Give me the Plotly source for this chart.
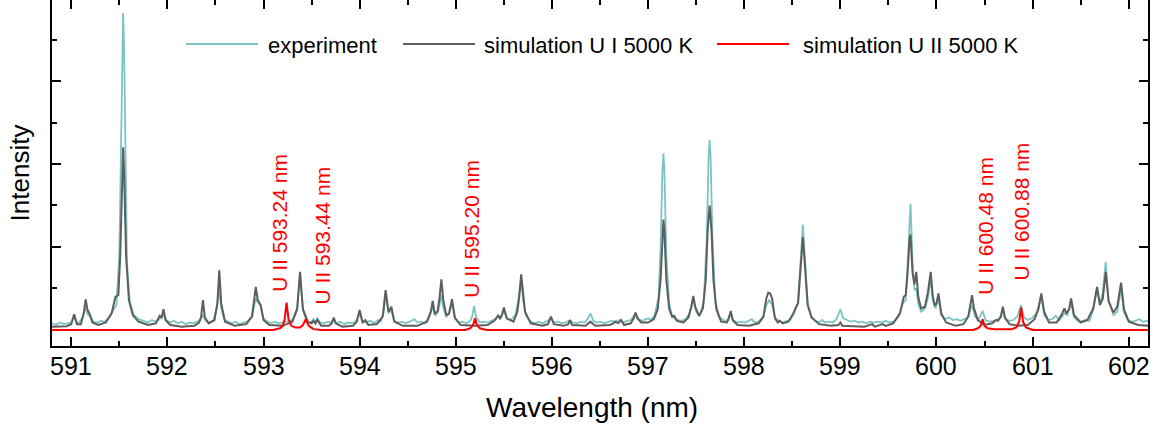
import plotly.graph_objects as go

# ---------------- data ----------------
# Measured spectrum (wavelength in nm, intensity in arbitrary units)
exp_nm = [590.80, 590.84, 590.88, 590.92, 590.96, 591.00, 591.03, 591.06, 591.09, 591.12, 591.15, 591.17, 591.20, 591.23,
          591.27, 591.31, 591.35, 591.40, 591.44, 591.47, 591.50, 591.52, 591.53, 591.54, 591.55, 591.56, 591.58, 591.61,
          591.65, 591.70, 591.75, 591.80, 591.84, 591.88, 591.92, 591.96, 591.99, 592.03, 592.07, 592.11, 592.15, 592.19,
          592.23, 592.27, 592.31, 592.34, 592.37, 592.40, 592.44, 592.48, 592.51, 592.54, 592.56, 592.59, 592.63, 592.67,
          592.71, 592.75, 592.79, 592.83, 592.88, 592.92, 592.95, 592.97, 593.00, 593.04, 593.08, 593.12, 593.16, 593.20,
          593.25, 593.30, 593.35, 593.38, 593.41, 593.45, 593.49, 593.52, 593.54, 593.56, 593.59, 593.63, 593.67, 593.70,
          593.73, 593.76, 593.80, 593.84, 593.88, 593.92, 593.96, 594.00, 594.03, 594.07, 594.11, 594.15, 594.19, 594.22,
          594.25, 594.27, 594.30, 594.33, 594.36, 594.40, 594.44, 594.48, 594.52, 594.57, 594.60, 594.64, 594.68, 594.72,
          594.76, 594.79, 594.82, 594.85, 594.87, 594.90, 594.93, 594.96, 594.99, 595.03, 595.07, 595.11, 595.15, 595.17,
          595.19, 595.21, 595.25, 595.29, 595.33, 595.37, 595.41, 595.44, 595.47, 595.50, 595.53, 595.57, 595.62, 595.65,
          595.68, 595.70, 595.73, 595.78, 595.82, 595.86, 595.90, 595.94, 595.99, 596.02, 596.06, 596.10, 596.14, 596.18,
          596.22, 596.26, 596.30, 596.34, 596.37, 596.40, 596.43, 596.47, 596.51, 596.55, 596.59, 596.63, 596.66, 596.70,
          596.74, 596.78, 596.82, 596.87, 596.90, 596.94, 596.97, 597.00, 597.03, 597.07, 597.11, 597.13, 597.15, 597.16,
          597.17, 597.19, 597.22, 597.25, 597.27, 597.31, 597.35, 597.39, 597.43, 597.47, 597.50, 597.54, 597.58, 597.61,
          597.63, 597.64, 597.65, 597.67, 597.70, 597.74, 597.78, 597.82, 597.86, 597.89, 597.93, 597.97, 598.01, 598.05,
          598.08, 598.11, 598.15, 598.20, 598.23, 598.26, 598.29, 598.32, 598.36, 598.40, 598.44, 598.48, 598.52, 598.56,
          598.59, 598.61, 598.63, 598.66, 598.70, 598.74, 598.78, 598.81, 598.84, 598.88, 598.92, 598.96, 599.00, 599.03,
          599.07, 599.11, 599.15, 599.19, 599.23, 599.27, 599.31, 599.35, 599.39, 599.43, 599.47, 599.51, 599.56, 599.61,
          599.65, 599.68, 599.70, 599.72, 599.73, 599.75, 599.77, 599.79, 599.81, 599.84, 599.88, 599.91, 599.94, 599.96,
          599.99, 600.02, 600.05, 600.09, 600.13, 600.17, 600.21, 600.25, 600.29, 600.33, 600.37, 600.40, 600.44, 600.48,
          600.51, 600.55, 600.59, 600.63, 600.66, 600.69, 600.72, 600.76, 600.80, 600.84, 600.88, 600.91, 600.95, 600.99,
          601.04, 601.09, 601.12, 601.16, 601.20, 601.24, 601.28, 601.33, 601.36, 601.40, 601.43, 601.47, 601.51, 601.55,
          601.59, 601.63, 601.67, 601.70, 601.73, 601.76, 601.79, 601.84, 601.88, 601.92, 601.95, 601.99, 602.03, 602.07,
          602.11, 602.15, 602.20]
exp_int = [0.08, 0.06, 0.09, 0.07, 0.08, 0.09, 0.16, 0.08, 0.10, 0.16, 0.27, 0.19, 0.16, 0.10,
           0.09, 0.11, 0.10, 0.16, 0.25, 0.30, 0.90, 2.60, 3.50, 3.82, 3.40, 2.30, 0.80, 0.33,
           0.18, 0.13, 0.11, 0.09, 0.12, 0.10, 0.13, 0.20, 0.12, 0.09, 0.11, 0.08, 0.10, 0.07,
           0.09, 0.08, 0.10, 0.12, 0.18, 0.11, 0.09, 0.12, 0.25, 0.48, 0.26, 0.13, 0.10, 0.08,
           0.10, 0.07, 0.09, 0.10, 0.16, 0.38, 0.32, 0.30, 0.14, 0.10, 0.08, 0.10, 0.08, 0.09,
           0.10, 0.12, 0.26, 0.66, 0.24, 0.10, 0.09, 0.13, 0.10, 0.14, 0.09, 0.08, 0.10, 0.09,
           0.13, 0.08, 0.10, 0.07, 0.09, 0.08, 0.10, 0.20, 0.10, 0.09, 0.11, 0.08, 0.12, 0.10,
           0.22, 0.42, 0.20, 0.24, 0.11, 0.09, 0.10, 0.08, 0.10, 0.13, 0.09, 0.10, 0.08, 0.14,
           0.28, 0.17, 0.24, 0.42, 0.27, 0.16, 0.19, 0.33, 0.14, 0.09, 0.10, 0.08, 0.11, 0.16,
           0.29, 0.16, 0.09, 0.10, 0.09, 0.11, 0.13, 0.18, 0.15, 0.24, 0.14, 0.12, 0.18, 0.36,
           0.60, 0.36, 0.17, 0.10, 0.08, 0.10, 0.08, 0.10, 0.14, 0.09, 0.10, 0.08, 0.09, 0.11,
           0.09, 0.08, 0.10, 0.09, 0.13, 0.20, 0.11, 0.09, 0.10, 0.08, 0.10, 0.11, 0.10, 0.12,
           0.09, 0.11, 0.12, 0.20, 0.13, 0.11, 0.13, 0.14, 0.12, 0.18, 0.40, 1.00, 1.95, 2.13,
           1.90, 0.90, 0.32, 0.17, 0.14, 0.12, 0.11, 0.13, 0.20, 0.38, 0.22, 0.17, 0.35, 1.10,
           2.10, 2.29, 2.10, 1.10, 0.35, 0.16, 0.12, 0.11, 0.20, 0.11, 0.09, 0.10, 0.09, 0.11,
           0.13, 0.09, 0.10, 0.16, 0.30, 0.36, 0.30, 0.15, 0.11, 0.09, 0.11, 0.12, 0.20, 0.33,
           0.90, 1.27, 0.90, 0.32, 0.16, 0.11, 0.09, 0.12, 0.09, 0.10, 0.09, 0.13, 0.25, 0.14,
           0.12, 0.10, 0.11, 0.09, 0.10, 0.08, 0.10, 0.09, 0.10, 0.09, 0.11, 0.09, 0.10, 0.17,
           0.32, 0.36, 0.80, 1.40, 1.52, 0.85, 0.48, 0.50, 0.32, 0.22, 0.26, 0.38, 0.62, 0.36,
           0.26, 0.38, 0.18, 0.13, 0.15, 0.12, 0.13, 0.11, 0.13, 0.16, 0.30, 0.16, 0.13, 0.23,
           0.12, 0.10, 0.11, 0.12, 0.15, 0.25, 0.13, 0.11, 0.12, 0.16, 0.30, 0.15, 0.12, 0.14,
           0.20, 0.40, 0.18, 0.12, 0.13, 0.17, 0.12, 0.20, 0.18, 0.33, 0.15, 0.11, 0.10, 0.12,
           0.11, 0.24, 0.48, 0.32, 0.45, 0.82, 0.35, 0.18, 0.22, 0.50, 0.21, 0.12, 0.10, 0.11,
           0.13, 0.10, 0.11]

# Simulated U I spectrum at 5000 K
ui_nm = [590.80, 590.95, 591.00, 591.03, 591.06, 591.10, 591.13, 591.15, 591.17, 591.19, 591.22, 591.28, 591.36, 591.42,
         591.46, 591.49, 591.51, 591.53, 591.54, 591.55, 591.57, 591.60, 591.64, 591.70, 591.80, 591.88, 591.92, 591.94,
         591.96, 591.98, 592.03, 592.15, 592.28, 592.33, 592.35, 592.37, 592.39, 592.43, 592.49, 592.52, 592.54, 592.56,
         592.60, 592.70, 592.82, 592.88, 592.92, 592.94, 592.97, 593.00, 593.06, 593.20, 593.30, 593.35, 593.38, 593.41,
         593.46, 593.50, 593.52, 593.54, 593.56, 593.60, 593.68, 593.71, 593.73, 593.75, 593.82, 593.93, 593.97, 594.00,
         594.03, 594.06, 594.09, 594.18, 594.24, 594.27, 594.30, 594.33, 594.36, 594.45, 594.60, 594.70, 594.74, 594.76,
         594.78, 594.81, 594.83, 594.85, 594.87, 594.90, 594.93, 594.96, 594.99, 595.05, 595.20, 595.33, 595.40, 595.44,
         595.46, 595.48, 595.50, 595.53, 595.60, 595.64, 595.66, 595.68, 595.70, 595.72, 595.78, 595.90, 595.96, 595.99,
         596.02, 596.12, 596.17, 596.19, 596.21, 596.35, 596.40, 596.45, 596.60, 596.64, 596.66, 596.69, 596.72, 596.75,
         596.82, 596.85, 596.87, 596.89, 596.93, 597.00, 597.06, 597.10, 597.13, 597.15, 597.16, 597.17, 597.19, 597.22,
         597.25, 597.27, 597.30, 597.37, 597.42, 597.45, 597.47, 597.49, 597.53, 597.57, 597.60, 597.62, 597.64, 597.66,
         597.68, 597.71, 597.76, 597.82, 597.84, 597.86, 597.88, 597.93, 598.05, 598.15, 598.20, 598.23, 598.25, 598.27,
         598.29, 598.32, 598.35, 598.37, 598.40, 598.46, 598.51, 598.54, 598.56, 598.59, 598.61, 598.63, 598.66, 598.70,
         598.78, 598.90, 598.98, 599.00, 599.02, 599.25, 599.33, 599.36, 599.44, 599.47, 599.55, 599.62, 599.66, 599.68,
         599.70, 599.72, 599.73, 599.75, 599.77, 599.79, 599.81, 599.84, 599.88, 599.91, 599.94, 599.96, 599.98, 600.00,
         600.02, 600.05, 600.10, 600.20, 600.28, 600.33, 600.35, 600.37, 600.39, 600.43, 600.50, 600.58, 600.62, 600.64,
         600.67, 600.69, 600.71, 600.76, 600.85, 600.95, 601.02, 601.06, 601.09, 601.12, 601.17, 601.25, 601.30, 601.33,
         601.35, 601.38, 601.40, 601.43, 601.50, 601.57, 601.63, 601.67, 601.70, 601.73, 601.76, 601.79, 601.84, 601.88,
         601.92, 601.95, 602.00, 602.10, 602.20]
ui_int = [0.04, 0.045, 0.07, 0.19, 0.07, 0.07, 0.20, 0.37, 0.24, 0.20, 0.09, 0.06, 0.09, 0.20,
          0.40, 0.42, 0.90, 1.90, 2.20, 1.90, 0.90, 0.36, 0.18, 0.10, 0.06, 0.08, 0.17, 0.15,
          0.25, 0.12, 0.06, 0.04, 0.05, 0.09, 0.15, 0.36, 0.15, 0.08, 0.12, 0.32, 0.72, 0.32,
          0.10, 0.05, 0.07, 0.16, 0.52, 0.36, 0.30, 0.12, 0.06, 0.05, 0.10, 0.25, 0.70, 0.25,
          0.10, 0.08, 0.11, 0.08, 0.12, 0.05, 0.05, 0.08, 0.15, 0.08, 0.04, 0.05, 0.10, 0.24,
          0.09, 0.12, 0.06, 0.07, 0.16, 0.48, 0.22, 0.28, 0.10, 0.05, 0.05, 0.10, 0.22, 0.35,
          0.20, 0.22, 0.38, 0.61, 0.36, 0.18, 0.20, 0.37, 0.15, 0.06, 0.05, 0.06, 0.11, 0.17,
          0.14, 0.18, 0.27, 0.14, 0.10, 0.22, 0.40, 0.67, 0.40, 0.22, 0.08, 0.05, 0.07, 0.16,
          0.07, 0.05, 0.07, 0.12, 0.06, 0.05, 0.10, 0.05, 0.06, 0.08, 0.10, 0.08, 0.12, 0.06,
          0.08, 0.14, 0.21, 0.14, 0.09, 0.09, 0.13, 0.25, 0.60, 1.20, 1.33, 1.20, 0.60, 0.25,
          0.16, 0.17, 0.11, 0.09, 0.15, 0.28, 0.41, 0.28, 0.17, 0.26, 0.60, 1.20, 1.50, 1.20,
          0.60, 0.25, 0.10, 0.09, 0.14, 0.23, 0.12, 0.06, 0.05, 0.08, 0.16, 0.38, 0.45, 0.44,
          0.38, 0.14, 0.09, 0.11, 0.08, 0.10, 0.20, 0.28, 0.32, 0.80, 1.12, 0.80, 0.30, 0.15,
          0.07, 0.05, 0.06, 0.09, 0.05, 0.04, 0.07, 0.04, 0.07, 0.05, 0.08, 0.20, 0.40, 0.42,
          0.70, 1.10, 1.15, 0.70, 0.55, 0.70, 0.40, 0.26, 0.28, 0.45, 0.70, 0.42, 0.30, 0.32,
          0.44, 0.20, 0.09, 0.05, 0.07, 0.16, 0.28, 0.42, 0.26, 0.12, 0.06, 0.08, 0.12, 0.11,
          0.16, 0.28, 0.15, 0.07, 0.05, 0.06, 0.13, 0.25, 0.44, 0.22, 0.09, 0.09, 0.18, 0.26,
          0.20, 0.25, 0.38, 0.18, 0.09, 0.12, 0.26, 0.52, 0.30, 0.38, 0.70, 0.35, 0.21, 0.28,
          0.57, 0.25, 0.10, 0.06, 0.05]

# Simulated U II spectrum at 5000 K
uii_nm = [590.80, 593.10, 593.17, 593.20, 593.22, 593.24, 593.26, 593.29, 593.33, 593.38, 593.41, 593.44, 593.47,
          593.52, 593.60, 595.10, 595.15, 595.18, 595.20, 595.22, 595.25, 595.32, 600.38, 600.43, 600.46, 600.48,
          600.50, 600.53, 600.60, 600.78, 600.83, 600.86, 600.88, 600.90, 600.93, 601.00, 602.20]
uii_int = [0.0, 0.0, 0.02, 0.05, 0.13, 0.33, 0.13, 0.05, 0.03, 0.03, 0.06, 0.13, 0.05,
           0.01, 0.0, 0.0, 0.02, 0.06, 0.14, 0.06, 0.02, 0.0, 0.0, 0.02, 0.05, 0.13,
           0.05, 0.02, 0.01, 0.01, 0.03, 0.10, 0.27, 0.10, 0.03, 0.0, 0.0]

# U II line identifications
line_nm = [593.24, 593.44, 595.20, 600.48, 600.88]
line_labels = ["U II 593.24 nm", "U II 593.44 nm", "U II 595.20 nm", "U II 600.48 nm", "U II 600.88 nm"]

series_names = ["experiment", "simulation U I 5000 K", "simulation U II 5000 K"]

# wavelength axis tick values and labels
x_tick_vals = [591, 592, 593, 594, 595, 596, 597, 598, 599, 600, 601, 602]
x_tick_text = ["591", "592", "593", "594", "595", "596", "597", "598", "599", "600", "601", "602"]

# ---------------- styling ----------------
W, H = 1165, 427
M_L, M_R, M_T, M_B = 52, 17, 0, 81
PLOT_W = W - M_L - M_R
PLOT_H = H - M_T - M_B

C_EXP = "#7cc4c4"
C_UI = "#5e5e5e"
C_UII = "#ff0000"
FONT = "Liberation Sans, Arial, sans-serif"

X_RANGE = [590.8, 602.2]
Y_RANGE = [-0.193, 3.976]


def px_to_paper(px, py):
    """Convert a pixel position in the page to paper coordinates of the plot area."""
    return (px - M_L) / PLOT_W, 1 - (py - M_T) / PLOT_H


fig = go.Figure()
fig.add_trace(go.Scatter(x=exp_nm, y=exp_int, mode="lines", name=series_names[0],
                         line=dict(color=C_EXP, width=1.8), showlegend=False))
fig.add_trace(go.Scatter(x=ui_nm, y=ui_int, mode="lines", name=series_names[1],
                         line=dict(color=C_UI, width=2), showlegend=False))
fig.add_trace(go.Scatter(x=uii_nm, y=uii_int, mode="lines", name=series_names[2],
                         line=dict(color=C_UII, width=2), showlegend=False,
                         xaxis="x2", yaxis="y"))

# line identification labels (rotated, centred above each U II line)
label_pos = [(593.17, 1.29), (593.61, 1.14), (595.17, 1.22), (600.51, 1.25), (600.88, 1.43)]
for (lx, ly), txt in zip(label_pos, line_labels):
    fig.add_annotation(x=lx, y=ly, xref="x", yref="y", text=txt, showarrow=False,
                       textangle=-90, font=dict(family=FONT, size=21, color=C_UII),
                       xanchor="center", yanchor="middle")

# legend drawn as line samples and labels
legend_items = [(186, 258, 266, C_EXP, series_names[0]),
                (403, 475, 482, C_UI, series_names[1]),
                (717, 789, 801, C_UII, series_names[2])]
LEG_Y = 44
shapes = []
for x0, x1, tx, col, name in legend_items:
    p0 = px_to_paper(x0, LEG_Y)
    p1 = px_to_paper(x1, LEG_Y)
    shapes.append(dict(type="line", xref="paper", yref="paper", x0=p0[0], x1=p1[0], y0=p0[1], y1=p1[1],
                       line=dict(color=col, width=2)))
    pt = px_to_paper(tx, LEG_Y + 2)
    fig.add_annotation(x=pt[0], y=pt[1], xref="paper", yref="paper", text=name, showarrow=False,
                       xanchor="left", yanchor="middle", font=dict(family=FONT, size=22, color="black"))

# wavelength tick labels, placed just under the axis line
_, tick_y = px_to_paper(0, 366)
for v, t in zip(x_tick_vals, x_tick_text):
    fig.add_annotation(x=v, y=tick_y, xref="x", yref="paper", text=t, showarrow=False,
                       xanchor="center", yanchor="middle", font=dict(family=FONT, size=25, color="black"))

# x-axis title
tx, ty = px_to_paper(592, 407)
fig.add_annotation(x=tx, y=ty, xref="paper", yref="paper", text="Wavelength (nm)", showarrow=False,
                   xanchor="center", yanchor="middle", font=dict(family=FONT, size=28, color="black"))

axis_common = dict(ticks="inside", tickcolor="black", tickwidth=1.5, zeroline=False, showgrid=False)

fig.update_layout(
    width=W, height=H,
    margin=dict(l=M_L, r=M_R, t=M_T, b=M_B),
    paper_bgcolor="white", plot_bgcolor="white",
    font=dict(family=FONT, color="black"),
    shapes=shapes,
    xaxis=dict(range=X_RANGE, tickmode="array", tickvals=x_tick_vals, ticklen=9,
               showticklabels=False,
               showline=True, linecolor="black", linewidth=2, mirror=False,
               minor=dict(dtick=0.5, tick0=591, ticklen=5, ticks="inside", tickcolor="black", tickwidth=1.5),
               **axis_common),
    xaxis2=dict(range=X_RANGE, matches="x", overlaying="x", side="top", anchor="y",
                tickmode="array", tickvals=x_tick_vals, ticklen=9, showline=False, showticklabels=False,
                minor=dict(dtick=0.5, tick0=591, ticklen=5, ticks="inside", tickcolor="black", tickwidth=1.5),
                **axis_common),
    yaxis=dict(range=Y_RANGE, tickmode="array", tickvals=[1, 2, 3], ticklen=9,
               showticklabels=False, showline=True, linecolor="black", linewidth=2, mirror="ticks",
               title=dict(text="Intensity", font=dict(size=26), standoff=13),
               minor=dict(tickmode="array", tickvals=[0.5, 1.5, 2.5, 3.5], ticklen=5, ticks="inside",
                          tickcolor="black", tickwidth=1.5),
               **axis_common),
)

fig.write_html("out.html")
